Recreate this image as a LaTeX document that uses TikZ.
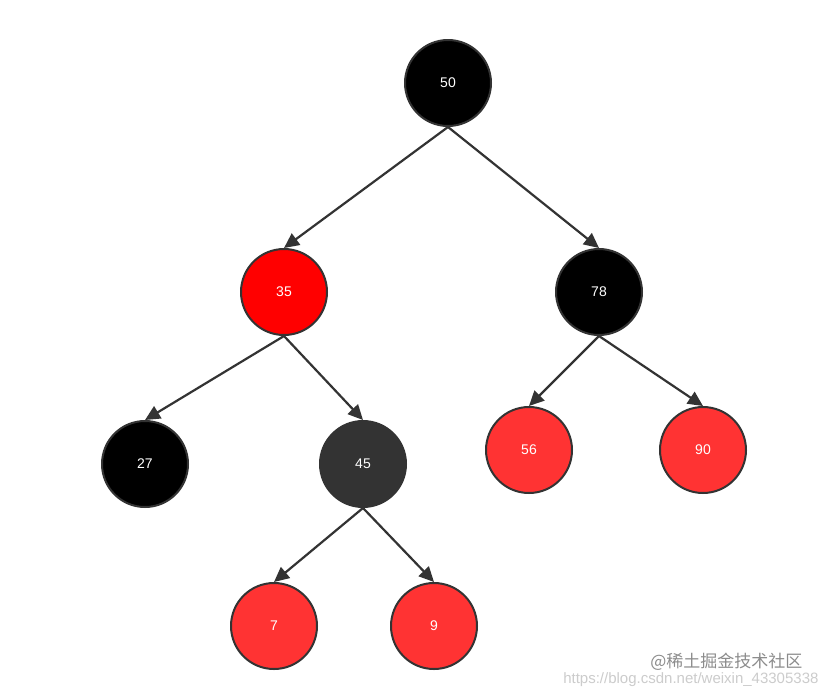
\documentclass[tikz,border=0pt]{standalone}
\usepackage{fontspec}
\setmainfont{Liberation Sans}
\newfontfamily\cjk{Noto Sans CJK SC}
\usetikzlibrary{arrows.meta}
\definecolor{edge}{HTML}{333333}
\definecolor{lred}{HTML}{FF3333}
\begin{document}
\begin{tikzpicture}[x=1pt,y=-1pt,
  rb/.style={circle,draw=edge,line width=2pt,minimum size=86pt,inner sep=0pt,text=white,font=\fontsize{14}{16}\selectfont},
  conn/.style={draw=edge,line width=2.2pt,-{Triangle[length=15pt,width=14pt]}}]
\useasboundingbox[fill=white] (0,0) rectangle (824,694);
\node[rb,fill=black] (n50) at (448,83) {50};
\node[rb,fill=red] (n35) at (284,292) {35};
\node[rb,fill=black] (n78) at (599,292) {78};
\node[rb,fill=black] (n27) at (145,464) {27};
\node[rb,fill=edge] (n45) at (363,464) {45};
\node[rb,fill=lred] (n56) at (529,450) {56};
\node[rb,fill=lred] (n90) at (703,450) {90};
\node[rb,fill=lred] (n7) at (274,626) {7};
\node[rb,fill=lred] (n9) at (434,626) {9};
\draw[conn] (n50.south) -- (n35.north);
\draw[conn] (n50.south) -- (n78.north);
\draw[conn] (n35.south) -- (n27.north);
\draw[conn] (n35.south) -- (n45.north);
\draw[conn] (n78.south) -- (n56.north);
\draw[conn] (n78.south) -- (n90.north);
\draw[conn] (n45.south) -- (n7.north);
\draw[conn] (n45.south) -- (n9.north);
\node[text=black!20,font=\fontsize{15}{17}\selectfont,anchor=east] (url) at (822,680) {https://blog.csdn.net/weixin\_43305338};
\node[text=black!45,font=\cjk\fontsize{17}{19}\selectfont,anchor=east] (wm) at (806,662) {@稀土掘金技术社区};
\end{tikzpicture}
\end{document}
